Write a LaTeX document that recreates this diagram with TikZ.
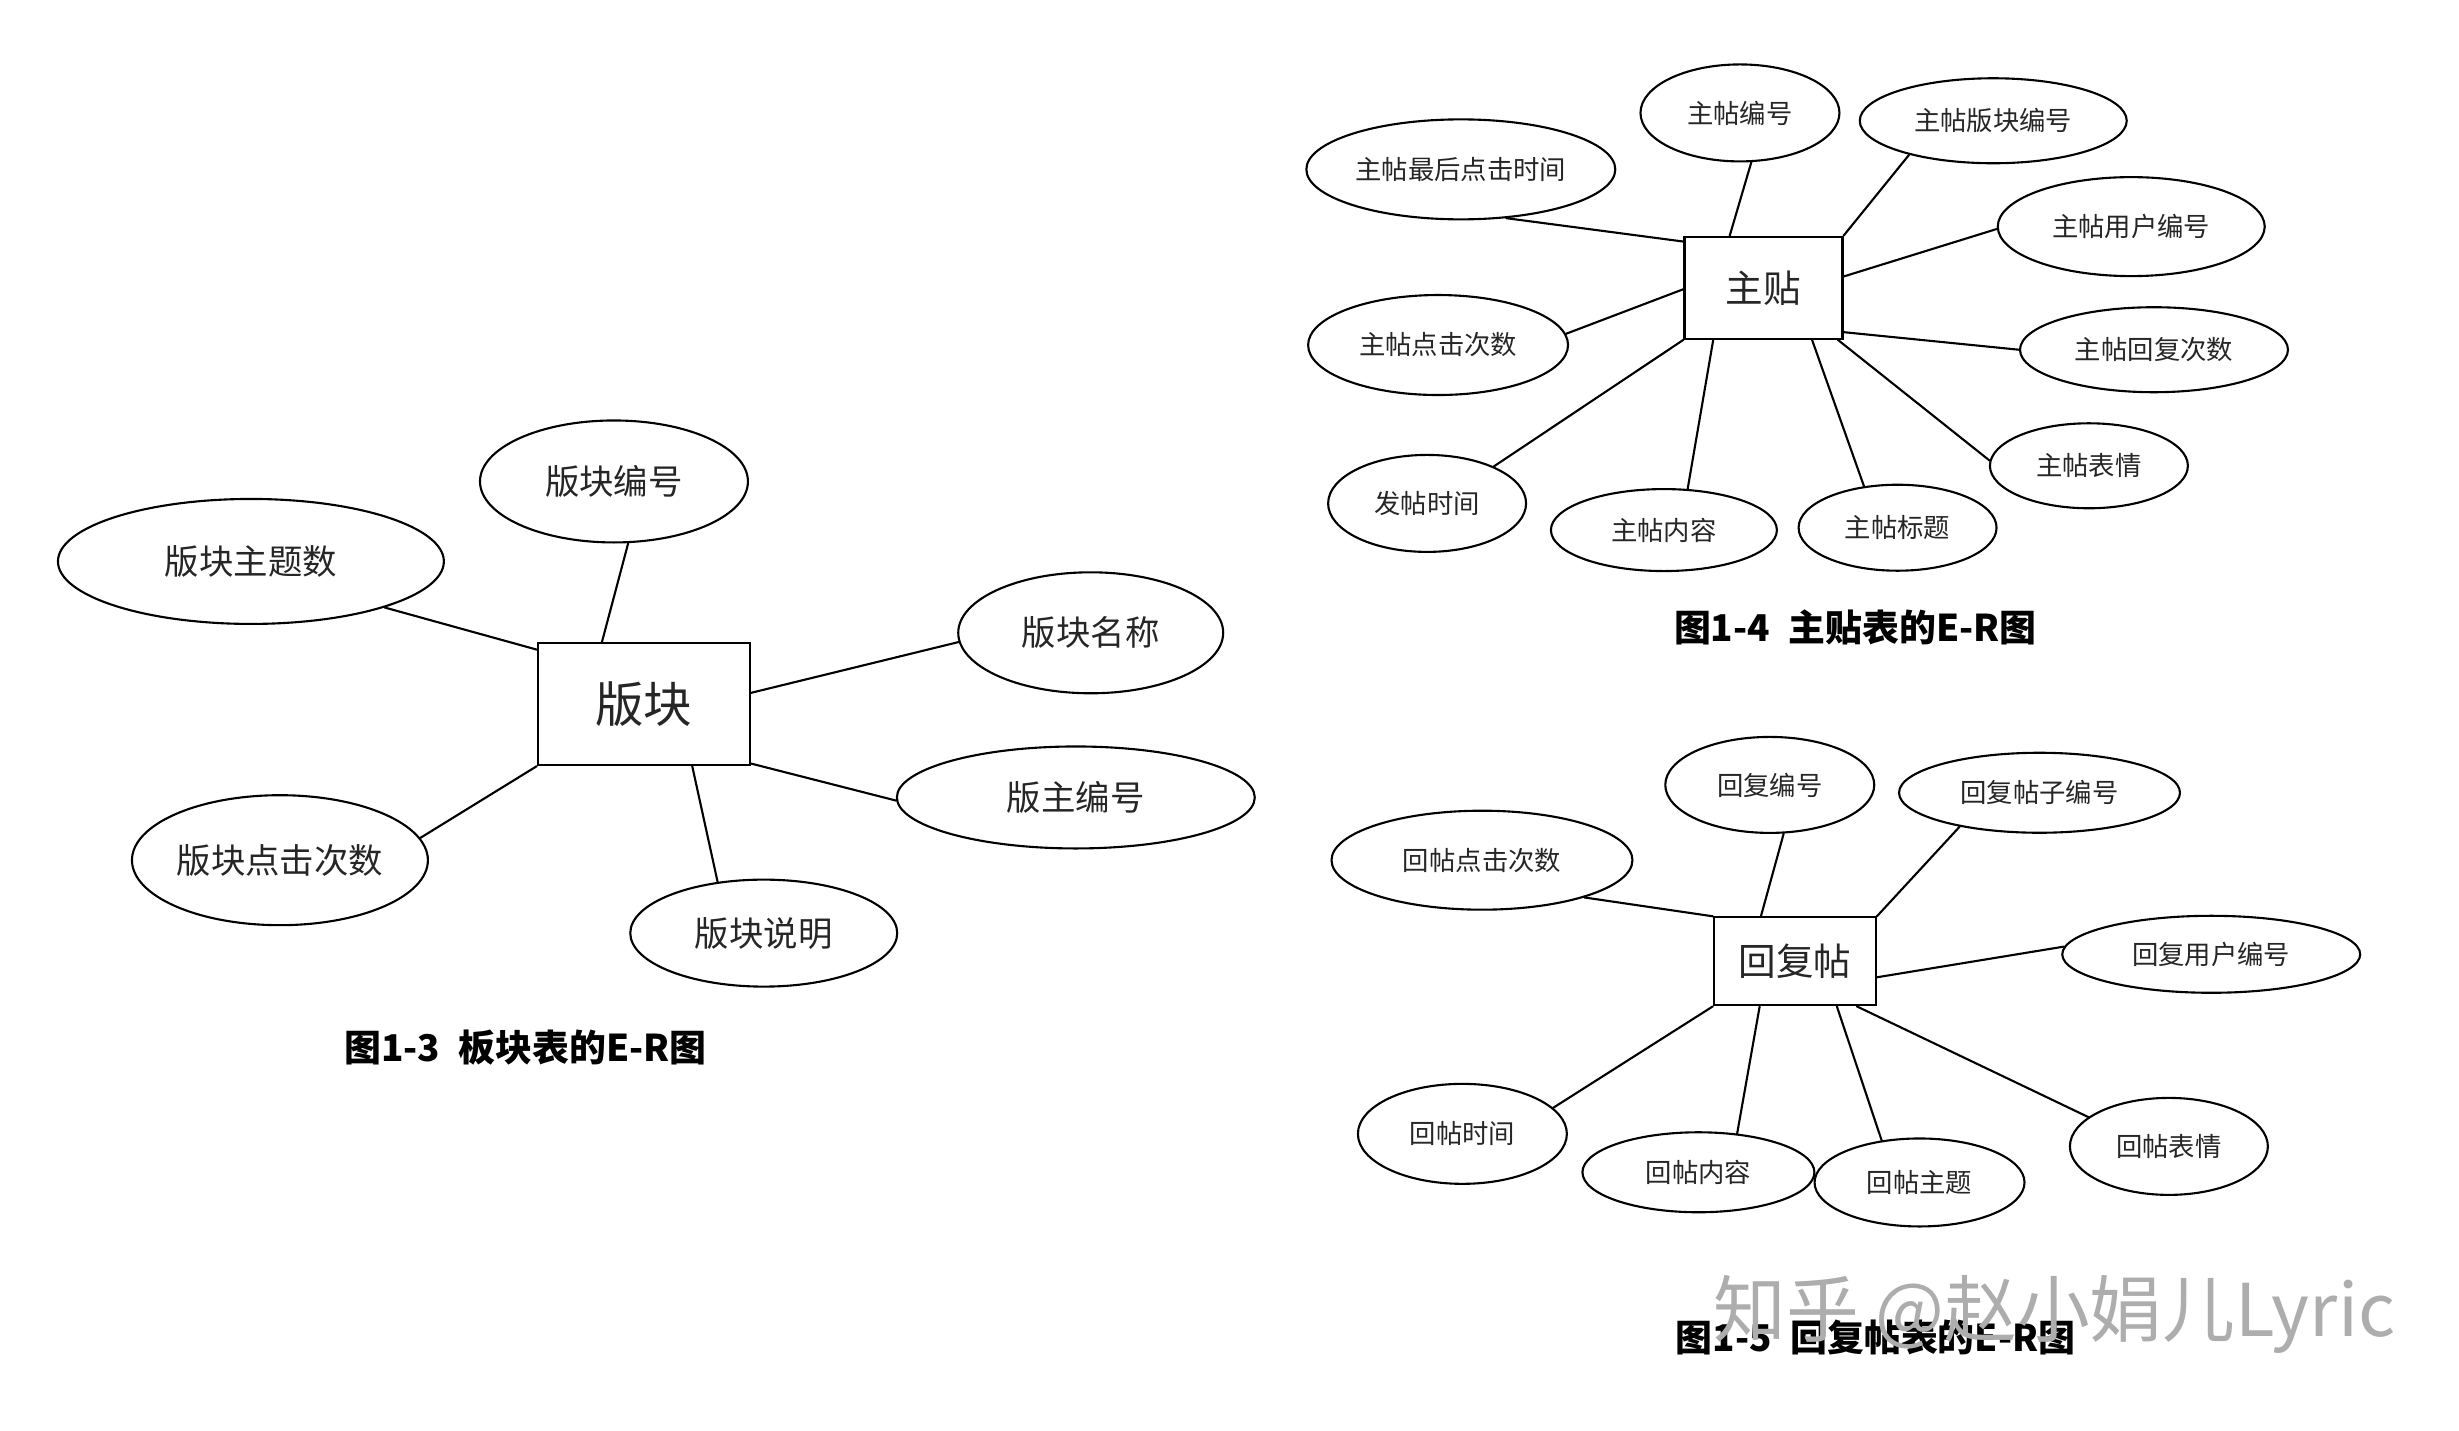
\documentclass[tikz,border=0pt]{standalone}
\usepackage{fontspec}
\newfontfamily\cjk{Noto Sans CJK SC}
\usetikzlibrary{shapes.geometric}

\begin{document}
\begin{tikzpicture}[x=0.01568cm,y=-0.01568cm,line cap=round,font=\cjk,
  ent/.style={draw,line width=0.6pt,inner sep=0pt,text=black!85},
  attr/.style={draw,ellipse,line width=0.6pt,inner sep=0pt,text=black!85},
  bigtxt/.style={font=\cjk\fontsize{9.8pt}{12pt}\selectfont},
  smalltxt/.style={font=\cjk\fontsize{7.5pt}{9pt}\selectfont},
  figcap/.style={font=\cjk\bfseries\fontsize{10.5pt}{12pt}\selectfont},
  link/.style={line width=0.6pt}]
\useasboundingbox[fill=white] (0,0) rectangle (1568,912);

\node[ent,minimum width=2.12cm,minimum height=1.22cm,font=\cjk\fontsize{13.8pt}{16pt}\selectfont] (bk) at (410.5,449) {版块};
\node[attr,bigtxt,minimum width=2.68cm,minimum height=1.22cm] (bkbh) at (391.5,307) {版块编号};
\node[attr,bigtxt,minimum width=3.86cm,minimum height=1.25cm] (bkzts) at (160,358) {版块主题数};
\node[attr,bigtxt,minimum width=2.65cm,minimum height=1.21cm] (bkmc) at (695.5,403.5) {版块名称};
\node[attr,bigtxt,minimum width=3.58cm,minimum height=1.02cm] (bzbh) at (686,508.5) {版主编号};
\node[attr,bigtxt,minimum width=2.96cm,minimum height=1.30cm] (bkdj) at (178.5,548.5) {版块点击次数};
\node[attr,bigtxt,minimum width=2.67cm,minimum height=1.07cm] (bksm) at (487,595) {版块说明};
\draw[link] (bk.124) -- (bkbh.-77);
\draw[link] (bk.153) -- (bkzts.-19);
\draw[link] (bk.6) -- (bkmc.184);
\draw[link] (bk.-29) -- (bzbh.181);
\draw[link] (bk.south west) -- (bkdj.9);
\draw[link] (bk.-52) -- (bksm.132);
\node[figcap] (cap13) at (335,668) {图1-3\hspace{0.5em}板块表的E-R图};

\node[ent,minimum width=1.58cm,minimum height=1.02cm,font=\cjk\fontsize{10.7pt}{13pt}\selectfont] (zt) at (1124.5,183.5) {主贴};
\node[attr,smalltxt,minimum width=1.99cm,minimum height=0.97cm] (ztbh) at (1109.5,72) {主帖编号};
\node[attr,smalltxt,minimum width=2.67cm,minimum height=0.85cm] (ztbk) at (1271,77) {主帖版块编号};
\node[attr,smalltxt,minimum width=3.09cm,minimum height=1.00cm] (ztzh) at (931.5,108) {主帖最后点击时间};
\node[attr,smalltxt,minimum width=2.67cm,minimum height=0.99cm] (ztyh) at (1359,144.5) {主帖用户编号};
\node[attr,smalltxt,minimum width=2.60cm,minimum height=1.00cm] (ztdj) at (917,220) {主帖点击次数};
\node[attr,smalltxt,minimum width=2.68cm,minimum height=0.85cm] (zthf) at (1373.5,223) {主帖回复次数};
\node[attr,smalltxt,minimum width=1.98cm,minimum height=0.85cm] (ztbq) at (1332,297) {主帖表情};
\node[attr,smalltxt,minimum width=1.98cm,minimum height=0.97cm] (ztfs) at (910,321) {发帖时间};
\node[attr,smalltxt,minimum width=2.26cm,minimum height=0.82cm] (ztnr) at (1061,338) {主帖内容};
\node[attr,smalltxt,minimum width=1.98cm,minimum height=0.86cm] (ztbt) at (1210,336.5) {主帖标题};
\draw[link] (zt.123.5) -- (ztbh.-77);
\draw[link] (zt.north east) -- (ztbk.202);
\draw[link] (zt.150.6) -- (ztzh.-47);
\draw[link] (zt.8.4) -- (ztyh.181.4);
\draw[link] (zt.181.7) -- (ztdj.5);
\draw[link] (zt.-29.4) -- (zthf.180.7);
\draw[link] (zt.-35.5) -- (ztbq.177.3);
\draw[link] (zt.-47.8) -- (ztbt.129.8);
\draw[link] (zt.-134.1) -- (ztnr.60);
\draw[link] (zt.south west) -- (ztfs.29.5);
\node[figcap] (cap14) at (1183,400) {图1-4\hspace{0.5em}主贴表的E-R图};

\node[ent,minimum width=1.62cm,minimum height=0.88cm,font=\cjk\fontsize{10.7pt}{13pt}\selectfont] (hft) at (1144.5,613) {回复帖};
\node[attr,smalltxt,minimum width=2.09cm,minimum height=0.96cm] (hfbh) at (1128.5,500.5) {回复编号};
\node[attr,smalltxt,minimum width=2.81cm,minimum height=0.80cm] (hfzbh) at (1300.5,505.5) {回复帖子编号};
\node[attr,smalltxt,minimum width=3.01cm,minimum height=0.99cm] (htdj) at (945,548.5) {回帖点击次数};
\node[attr,smalltxt,minimum width=2.98cm,minimum height=0.77cm] (hfyh) at (1410,608.5) {回复用户编号};
\node[attr,smalltxt,minimum width=2.09cm,minimum height=1.00cm] (htsj) at (932.5,723) {回帖时间};
\node[attr,smalltxt,minimum width=2.32cm,minimum height=0.80cm] (htnr) at (1083,747.5) {回帖内容};
\node[attr,smalltxt,minimum width=2.10cm,minimum height=0.88cm] (htzt) at (1224,754) {回帖主题};
\node[attr,smalltxt,minimum width=1.98cm,minimum height=0.97cm] (htbq) at (1383,731) {回帖表情};
\draw[link] (hft.127.5) -- (hfbh.-74.4);
\draw[link] (hft.north east) -- (hfzbh.203.7);
\draw[link] (hft.north west) -- (htdj.-20.6);
\draw[link] (hft.-11) -- (hfyh.177.9);
\draw[link] (hft.south west) -- (htsj.16.1);
\draw[link] (hft.-128.8) -- (htnr.45.6);
\draw[link] (hft.-47.7) -- (htzt.132.9);
\draw[link] (hft.-36) -- (htbq.160.7);
\node[figcap] (cap15) at (1196,853) {图1-5\hspace{0.5em}回复帖表的E-R图};

\node[font=\cjk\fontsize{20.7pt}{24pt}\selectfont,text=black!32] (wm) at (1310,838) {知乎 @赵小娟儿Lyric};
\end{tikzpicture}
\end{document}
